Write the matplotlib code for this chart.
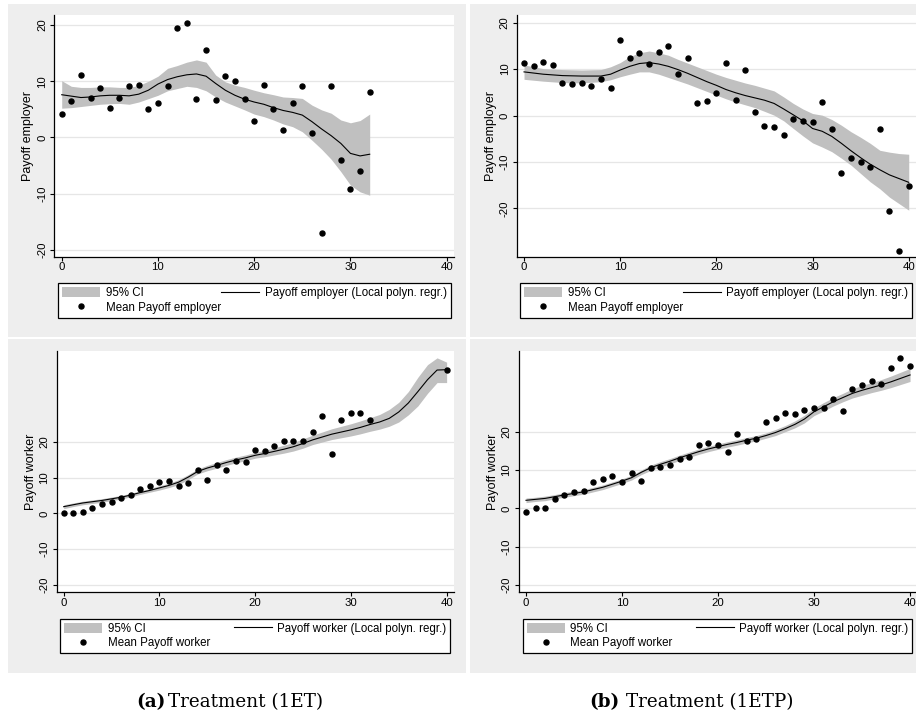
import numpy as np
import matplotlib
matplotlib.use("Agg")
import matplotlib.pyplot as plt
from matplotlib.patches import Rectangle

plt.rcParams['font.family'] = ['Liberation Sans', 'DejaVu Sans']
plt.rcParams['axes.unicode_minus'] = False

# ---------------- data ----------------
# (a) 1ET employer
x_emp_a = list(range(0, 33))
mean_emp_a = [4.15, 6.46, 11.2, 6.94, 8.72, 5.16, 7.06, 9.07, 9.25, 4.98, 6.05, 9.07, 19.45,
              20.4, 6.76, 15.6, 6.64, 10.85, 9.96, 6.76, 2.85, 9.37, 4.98, 1.30, 6.05, 9.07,
              0.71, -17.0, 9.07, -3.97, -9.19, -5.99, 8.0]
grid_emp_a = list(range(0, 33))
fit_emp_a = [7.6, 7.35, 7.1, 7.2, 7.4, 7.5, 7.5, 7.4, 7.7, 8.4, 9.5, 10.3, 10.8, 11.15, 11.3,
             10.9, 9.6, 8.4, 7.5, 6.8, 6.3, 5.9, 5.3, 4.8, 4.45, 3.97, 2.8, 1.5, 0.3, -1.07,
             -2.85, -3.3, -3.0]
hi_emp_a = [10.1, 9.1, 8.9, 8.9, 9.0, 9.0, 8.9, 8.9, 9.25, 10.0, 10.9, 12.3, 12.8, 13.4, 13.8,
            13.4, 11.1, 9.9, 9.3, 8.9, 8.4, 7.95, 7.6, 7.2, 7.1, 6.94, 5.75, 4.9, 4.3, 3.1,
            2.6, 3.0, 4.15]
lo_emp_a = [5.2, 5.3, 5.5, 5.7, 5.9, 6.0, 6.05, 5.9, 6.3, 6.9, 7.5, 8.3, 8.7, 9.1, 8.9, 8.3,
            7.2, 6.3, 5.6, 4.9, 4.15, 3.7, 3.1, 2.4, 1.9, 1.0, -0.5, -2.1, -3.9, -6.1, -8.5,
            -9.7, -10.3]

# (b) 1ETP employer
x_emp_b = list(range(0, 41))
mean_emp_b = [11.37, 10.58, 11.5, 10.9, 7.1, 6.7, 6.9, 6.26, 7.84, 5.97, 16.2, 12.3, 13.4, 11.0,
              13.7, 14.96, 9.0, 12.3, 2.66, 3.17, 4.75, 11.3, 3.3, 9.7, 0.79, -2.16, -2.45,
              -4.1, -0.86, -1.08, -1.3, 3.0, -3.0, -12.4, -9.06, -10.07, -11.0, -3.0, -20.6,
              -29.1, -15.1]
grid_emp_b = list(range(0, 41))
fit_emp_b = [9.4, 9.15, 8.9, 8.75, 8.6, 8.55, 8.5, 8.5, 8.5, 8.9, 9.8, 10.6, 11.2, 11.4, 11.1,
             10.6, 9.9, 9.1, 8.2, 7.3, 6.5, 5.6, 4.9, 4.3, 3.8, 3.3, 2.6, 1.4, 0.14, -1.15,
             -2.8, -3.4, -4.5, -6.0, -7.6, -9.1, -10.5, -11.7, -12.8, -13.6, -14.4]
hi_emp_b = [10.9, 10.5, 10.1, 10.0, 9.9, 9.85, 9.8, 9.85, 9.9, 10.5, 11.4, 12.7, 13.5, 13.9,
            13.5, 13.0, 12.1, 11.3, 10.5, 9.7, 8.9, 8.2, 7.6, 7.0, 6.5, 5.9, 5.3, 4.0, 2.6,
            1.4, 0.43, 0.07, -0.86, -2.1, -3.5, -4.7, -6.0, -7.5, -7.9, -8.2, -8.35]
lo_emp_b = [7.8, 7.6, 7.4, 7.25, 7.1, 7.05, 7.05, 7.15, 7.3, 7.7, 8.35, 8.9, 9.4, 9.4, 8.9,
            8.2, 7.5, 6.8, 6.0, 5.2, 4.4, 3.6, 2.9, 2.3, 1.7, 0.9, 0.07, -1.15, -2.8, -4.4,
            -5.9, -6.8, -7.8, -9.2, -10.7, -12.5, -14.3, -15.8, -17.6, -19.0, -20.4]

# (a) 1ET worker
x_wrk_a = list(range(0, 33)) + [40]
mean_wrk_a = [0.0, 0.0, 0.37, 1.5, 2.6, 3.2, 4.3, 5.1, 6.8, 7.7, 8.65, 9.0, 7.7, 8.5, 12.2, 9.3,
              13.6, 12.0, 14.5, 14.2, 17.8, 17.3, 18.8, 20.3, 20.1, 20.3, 22.8, 27.2, 16.6,
              26.0, 28.1, 28.1, 26.0, 40.1]
grid_wrk_a = list(range(0, 41))
fit_wrk_a = [1.86, 2.4, 2.9, 3.25, 3.6, 4.05, 4.5, 5.1, 5.8, 6.4, 7.1, 7.8, 8.7, 10.1, 11.7,
             12.65, 13.4, 14.2, 14.9, 15.5, 16.2, 16.7, 17.3, 17.9, 18.6, 19.5, 20.5, 21.3,
             22.1, 22.7, 23.3, 24.0, 24.8, 25.5, 26.5, 28.3, 30.8, 34.0, 37.3, 40.0, 40.1]
hi_wrk_a = [2.4, 2.9, 3.4, 3.75, 4.1, 4.55, 5.0, 5.6, 6.3, 6.9, 7.7, 8.4, 9.4, 10.8, 12.4,
            13.4, 14.2, 15.0, 15.7, 16.3, 17.0, 17.6, 18.3, 19.0, 19.8, 20.8, 21.8, 22.7, 23.6,
            24.3, 25.0, 25.8, 26.7, 27.6, 29.0, 31.0, 34.0, 38.0, 41.5, 43.4, 42.2]
lo_wrk_a = [1.3, 1.9, 2.4, 2.75, 3.1, 3.55, 4.0, 4.6, 5.3, 5.9, 6.5, 7.2, 8.0, 9.4, 11.0, 11.9,
            12.6, 13.4, 14.1, 14.7, 15.4, 15.8, 16.3, 16.8, 17.4, 18.2, 19.2, 19.9, 20.6, 21.1,
            21.6, 22.2, 22.9, 23.5, 24.3, 25.5, 27.5, 30.0, 33.5, 36.5, 36.5]

# (b) 1ETP worker
x_wrk_b = list(range(0, 41))
mean_wrk_b = [-0.87, 0.09, 0.09, 2.4, 3.6, 4.3, 4.4, 7.0, 7.6, 8.35, 7.0, 9.1, 7.1, 10.6, 10.8,
              11.3, 13.0, 13.4, 16.4, 17.1, 16.4, 14.8, 19.3, 17.7, 18.1, 22.5, 23.6, 24.8,
              24.7, 25.6, 26.3, 26.3, 28.5, 25.4, 31.2, 32.2, 33.2, 32.4, 36.7, 39.1, 37.2]
grid_wrk_b = list(range(0, 41))
fit_wrk_b = [2.1, 2.35, 2.6, 3.05, 3.5, 3.9, 4.3, 4.9, 5.5, 6.3, 7.1, 8.0, 9.4, 10.6, 11.5,
             12.3, 13.2, 14.0, 14.8, 15.5, 16.1, 16.7, 17.2, 17.8, 18.3, 19.0, 19.8, 20.8,
             21.9, 23.3, 25.2, 26.5, 27.8, 28.9, 30.0, 30.8, 31.5, 32.2, 33.0, 33.9, 34.8]
hi_wrk_b = [2.7, 2.9, 3.2, 3.6, 4.1, 4.5, 4.9, 5.5, 6.1, 6.9, 7.7, 8.6, 10.0, 11.3, 12.2, 13.0,
            13.9, 14.7, 15.5, 16.2, 16.8, 17.4, 17.9, 18.5, 19.0, 19.7, 20.6, 21.6, 22.8, 24.3,
            26.2, 27.6, 28.9, 30.0, 31.2, 32.1, 32.8, 33.6, 34.5, 35.5, 36.5]
lo_wrk_b = [1.5, 1.8, 2.0, 2.5, 2.9, 3.3, 3.7, 4.3, 4.9, 5.7, 6.5, 7.4, 8.8, 9.9, 10.8, 11.6,
            12.5, 13.3, 14.1, 14.8, 15.4, 16.0, 16.5, 17.1, 17.6, 18.3, 19.0, 20.0, 21.0, 22.3,
            24.2, 25.4, 26.7, 27.8, 28.8, 29.5, 30.2, 30.8, 31.5, 32.3, 33.1]

x_ticks = [0, 10, 20, 30, 40]
y_ticks = [-20, -10, 0, 10, 20]
captions = [("(a)", "Treatment (1ET)"), ("(b)", "Treatment (1ETP)")]

# ---------------- layout ----------------
W, H = 916, 717
fig = plt.figure(figsize=(W / 100, H / 100), dpi=100)
fig.patch.set_facecolor("white")


def frect(x0, y0, x1, y1):
    return [x0 / W, 1 - y1 / H, (x1 - x0) / W, (y1 - y0) / H]


GRAY = "#eeeeee"
for (x0, y0, x1, y1) in [(8, 4, 466, 336.7), (470, 4, 920, 336.7),
                         (8, 339.3, 466, 672.7), (470, 339.3, 920, 672.7)]:
    fig.patches.append(Rectangle((x0 / W, 1 - y1 / H), (x1 - x0) / W, (y1 - y0) / H,
                                 transform=fig.transFigure, facecolor=GRAY,
                                 edgecolor="none", zorder=0))


def panel(rect, xlim, ylim, xs, ys, gx, fit, lo, hi, what, legrect):
    ax = fig.add_axes(frect(*rect))
    ax.set_facecolor("white")
    ax.set_zorder(2)
    for yt in y_ticks:
        ax.axhline(yt, color="#e6e6e6", lw=0.9, zorder=0)
    ci = ax.fill_between(gx, lo, hi, color="#c0c0c0", lw=0, zorder=1, label="95% CI")
    ln, = ax.plot(gx, fit, color="black", lw=0.8, zorder=2,
                  label=f"Payoff {what} (Local polyn. regr.)")
    pts, = ax.plot(xs, ys, "o", color="black", ms=3.6, ls="none", zorder=3,
                   label=f"Mean Payoff {what}")
    ax.set_xlim(*xlim)
    ax.set_ylim(*ylim)
    ax.set_xticks(x_ticks)
    ax.set_yticks(y_ticks)
    for s in ["top", "right"]:
        ax.spines[s].set_visible(False)
    for s in ["left", "bottom"]:
        ax.spines[s].set_linewidth(0.9)
        ax.spines[s].set_color("black")
    ax.tick_params(axis="both", direction="out", length=3.2, width=0.8, labelsize=8.2,
                   colors="black")
    ax.tick_params(axis="x", pad=0.8)
    ax.tick_params(axis="y", pad=2.0, labelrotation=90)
    for lbl in ax.get_yticklabels():
        lbl.set_va("center")
    ax.set_ylabel(f"Payoff {what}", fontsize=9, labelpad=2)
    lx0, ly0, lx1, ly1 = legrect
    leg = ax.legend(handles=[ci, pts, ln], ncol=2, mode="expand", loc="upper left",
                    bbox_to_anchor=(lx0 / W, 1 - ly1 / H, (lx1 - lx0) / W, (ly1 - ly0) / H),
                    bbox_transform=fig.transFigure, fontsize=8.3, frameon=True,
                    fancybox=False, edgecolor="black", framealpha=1, borderpad=0.35,
                    labelspacing=0.2, handlelength=3.3, handleheight=1.0,
                    handletextpad=0.45, columnspacing=0.5, borderaxespad=0, numpoints=1)
    leg.get_frame().set_linewidth(0.9)
    return ax


panel((54.3, 15, 454.3, 256.7), (-0.77, 40.79), (-21.25, 21.8),
      x_emp_a, mean_emp_a, grid_emp_a, fit_emp_a, lo_emp_a, hi_emp_a, "employer",
      (58.3, 283, 450.7, 321))
panel((517, 15, 917, 256.7), (-0.73, 40.86), (-30.43, 21.66),
      x_emp_b, mean_emp_b, grid_emp_b, fit_emp_b, lo_emp_b, hi_emp_b, "employer",
      (520.3, 283, 912, 321))
panel((56.7, 350.7, 454.3, 592.3), (-0.73, 40.8), (-22.04, 45.4),
      x_wrk_a, mean_wrk_a, grid_wrk_a, fit_wrk_a, lo_wrk_a, hi_wrk_a, "worker",
      (60.3, 618.7, 450.3, 656.7))
panel((518.7, 350.7, 918.7, 592.3), (-0.76, 40.9), (-21.9, 41.13),
      x_wrk_b, mean_wrk_b, grid_wrk_b, fit_wrk_b, lo_wrk_b, hi_wrk_b, "worker",
      (522.7, 618.7, 912, 656.7))

# captions
cap_font = ["DejaVu Serif"]
for (bx, tx, (lab, txt)) in [(136, 168.3, captions[0]), (589.3, 626, captions[1])]:
    fig.text(bx / W, 1 - 707.3 / H, lab, fontsize=13.2, fontweight="bold",
             family=cap_font, va="baseline", ha="left")
    fig.text(tx / W, 1 - 707.3 / H, txt, fontsize=13.2, family=cap_font,
             va="baseline", ha="left")

fig.savefig("out.png", dpi=100, facecolor="white")
